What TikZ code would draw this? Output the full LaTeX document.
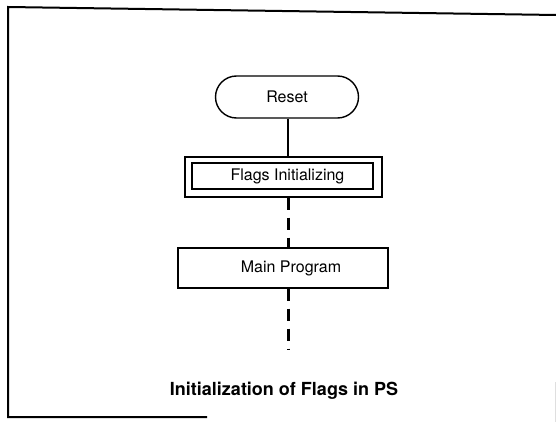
\documentclass[tikz,border=0pt]{standalone}
\usepackage{fontspec}
\setmainfont{TeX Gyre Heros}
\usetikzlibrary{shapes.misc}
\begin{document}
\begin{tikzpicture}[x=1pt,y=-1pt,
  frameline/.style={line width=2pt},
  boxline/.style={draw,line width=1.4pt,inner sep=0pt},
  boxtext/.style={font=\fontsize{16}{19}\selectfont},
  solidlink/.style={line width=2.6pt},
  dashlink/.style={line width=3pt,dash pattern=on 12pt off 8pt}]
\useasboundingbox (0,0) rectangle (556,422);

% outer frame (open on the right)
\draw[frameline] (556,15) -- (8,7) -- (8,417) -- (207,417);
\draw[gray!25,line width=0.8pt] (555.5,382) -- (555.5,422);

% flowchart blocks
\node[boxline,rounded rectangle,minimum width=143pt,minimum height=42pt,boxtext]
  (reset) at (287,97) {Reset};
\node[boxline,minimum width=197pt,minimum height=40pt] (flagsout) at (283.5,177) {};
\node[boxline,minimum width=181pt,minimum height=26pt,boxtext] (flags) at (282.5,176)
  {\hspace{10pt}Flags Initializing};
\node[boxline,minimum width=210pt,minimum height=40pt,boxtext] (main) at (283,268)
  {\hspace{16pt}Main Program};
\coordinate (tail) at (288,350);

% connectors
\draw[solidlink] (reset.south -| tail) -- (flagsout.north -| tail);
\draw[dashlink] (flagsout.south -| tail) -- (main.north -| tail);
\draw[dashlink] (main.south -| tail) -- (tail);

% caption
\node[font=\bfseries\fontsize{18}{21}\selectfont] (caption) at (284,391)
  {Initialization of Flags in PS};
\end{tikzpicture}
\end{document}
